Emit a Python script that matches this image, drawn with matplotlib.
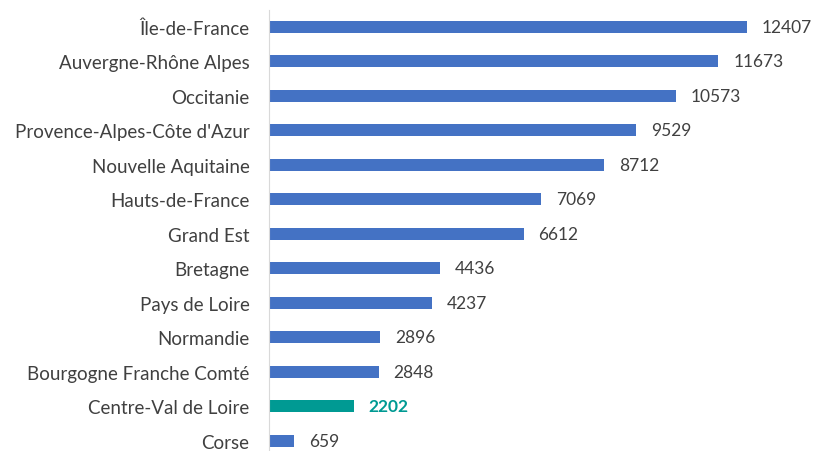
import matplotlib
matplotlib.use("Agg")
import matplotlib.pyplot as plt

regions = ["Île-de-France", "Auvergne-Rhône Alpes", "Occitanie",
           "Provence-Alpes-Côte d'Azur", "Nouvelle Aquitaine", "Hauts-de-France",
           "Grand Est", "Bretagne", "Pays de Loire", "Normandie",
           "Bourgogne Franche Comté", "Centre-Val de Loire", "Corse"]
values = [12407, 11673, 10573, 9529, 8712, 7069, 6612, 4436, 4237, 2896, 2848, 2202, 659]
highlight = "Centre-Val de Loire"

blue = "#4472C4"
teal = "#009A93"
grey = "#404040"

plt.rcParams["font.family"] = ["Lato", "DejaVu Sans"]

fig = plt.figure(figsize=(8.14, 4.52), dpi=100)
ax = fig.add_axes([269 / 814, -7 / 452, 539 / 814, 448.5 / 452])

ypos = list(range(len(regions)))
colors = [teal if r == highlight else blue for r in regions]
ax.barh(ypos, values, height=0.36, color=colors)

for y, v, r in zip(ypos, values, regions):
    hl = r == highlight
    ax.text(v + 390, y, str(v), va="center", ha="left", fontsize=12.5,
            color=teal if hl else grey, fontweight="bold" if hl else "normal")

ax.set_yticks(ypos)
ax.set_yticklabels(regions, fontsize=13.5, color=grey)
ax.tick_params(axis="y", length=0, pad=14)
ax.set_xticks([])
ax.set_xlim(0, 14000)
ax.set_ylim(len(regions) - 0.5, -0.5)
for s in ["top", "right", "bottom"]:
    ax.spines[s].set_visible(False)
ax.spines["left"].set_color("#D9D9D9")

fig.savefig("out.png", dpi=100)
